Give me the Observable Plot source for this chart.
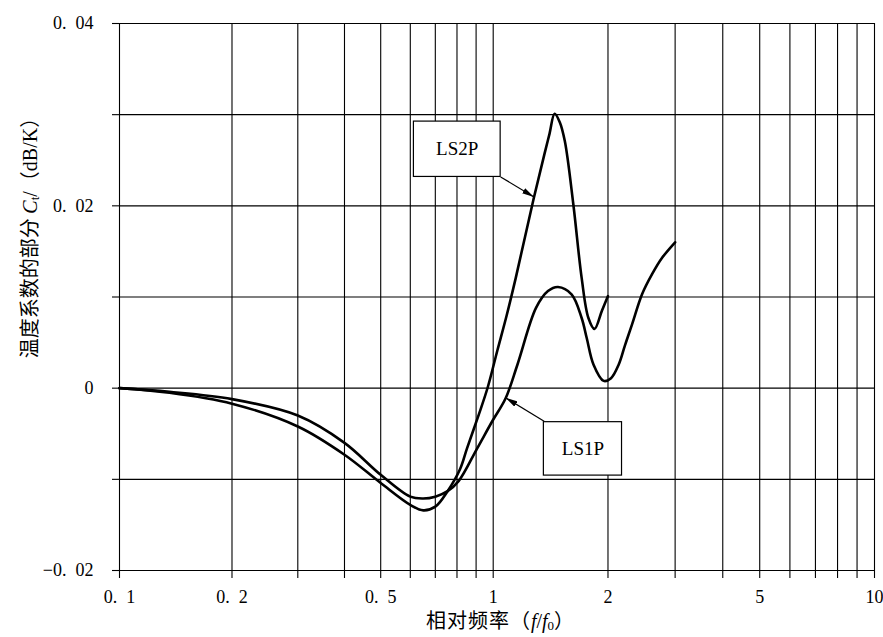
<!DOCTYPE html>
<html><head><meta charset="utf-8">
<script src="https://cdn.jsdelivr.net/npm/d3@7"></script>
<script src="https://cdn.jsdelivr.net/npm/@observablehq/plot@0.6"></script>
<style>body{margin:0;background:#fff}</style>
</head><body><div id="chart"></div>
<script>
// Relative frequency f/f0 and temperature coefficient part Ct (dB/K)
const ls2pF = [0.1, 0.136, 0.2, 0.3, 0.4, 0.5, 0.6, 0.65, 0.7, 0.755, 0.815, 0.851, 0.915, 0.967, 1.025, 1.085, 1.146, 1.277, 1.363, 1.405, 1.449, 1.494, 1.541, 1.622, 1.706, 1.777, 1.844, 1.928, 2.0];
const ls2pC = [0, -0.0005, -0.0017, -0.0042, -0.0073, -0.0104, -0.0128, -0.0134, -0.0130, -0.0113, -0.0089, -0.0066, -0.0029, 0.0001, 0.0041, 0.0080, 0.0121, 0.0208, 0.0257, 0.0279, 0.0301, 0.0292, 0.0271, 0.0202, 0.0121, 0.0077, 0.0065, 0.0085, 0.0101];

const ls1pF = [0.1, 0.136, 0.2, 0.3, 0.4, 0.5, 0.6, 0.65, 0.7, 0.755, 0.808, 0.906, 0.995, 1.078, 1.158, 1.295, 1.392, 1.479, 1.605, 1.706, 1.759, 1.832, 1.948, 2.037, 2.134, 2.216, 2.313, 2.457, 2.61, 2.773, 3.0];
const ls1pC = [0, -0.0004, -0.0012, -0.0030, -0.0060, -0.0095, -0.0119, -0.0121, -0.0119, -0.0113, -0.0102, -0.0066, -0.0036, -0.0011, 0.0026, 0.0088, 0.01065, 0.0111, 0.0103, 0.0077, 0.0055, 0.0026, 0.0008, 0.0011, 0.0026, 0.0047, 0.0070, 0.0103, 0.0125, 0.0143, 0.0160];

const xTicks = [0.1, 0.2, 0.3, 0.4, 0.5, 0.6, 0.7, 0.8, 0.9, 1, 2, 3, 4, 5, 6, 7, 8, 9, 10];
const xTickLabels = ["0. 1", "0. 2", "", "", "0. 5", "", "", "", "", "1", "2", "", "", "5", "", "", "", "", "10"];
const yTicks = [-0.02, -0.01, 0, 0.01, 0.02, 0.03, 0.04];
const yTickLabels = ["−0. 02", "", "0", "", "0. 02", "", "0. 04"];

// Callout boxes and their arrows
const boxNames = ["LS2P", "LS1P"];
const boxF1 = [0.6135, 1.358];
const boxF2 = [1.046, 2.177];
const boxC1 = [0.02317, -0.00959];
const boxC2 = [0.02924, -0.00373];
const arrowF1 = [1.046, 1.36];
const arrowC1 = [0.02317, -0.00362];
const arrowF2 = [1.279, 1.078];
const arrowC2 = [0.02097, -0.00106];

const sp = s => s.replace(". ", ".\u2002");
const ls2p = ls2pF.map((f, i) => ({f, c: ls2pC[i]}));
const ls1p = ls1pF.map((f, i) => ({f, c: ls1pC[i]}));
const boxes = boxNames.map((name, i) => ({
  name, x1: boxF1[i], x2: boxF2[i], y1: boxC1[i], y2: boxC2[i],
  tx: Math.sqrt(boxF1[i] * boxF2[i]), ty: (boxC1[i] + boxC2[i]) / 2
}));
const arrows = boxNames.map((name, i) => ({x1: arrowF1[i], y1: arrowC1[i], x2: arrowF2[i], y2: arrowC2[i]}));

const chart = Plot.plot({
  width: 883, height: 637,
  marginLeft: 119, marginRight: 9, marginTop: 23, marginBottom: 67,
  x: {type: "log", domain: [0.1, 1, 10], range: [119, 492.7, 874]},
  y: {domain: [-0.02, 0.04]},
  style: {fontFamily: "'Liberation Serif', serif", fontSize: "18px", color: "#000", background: "#fff"},
  marks: [
    Plot.ruleX(xTicks, {y1: -0.02, y2: 0.04, stroke: "#000", strokeWidth: 1.1}),
    Plot.ruleY(yTicks, {x1: 0.1, x2: 10, stroke: "#000", strokeWidth: 1.1}),
    Plot.axisX({ticks: xTicks, tickSize: 8, tickPadding: 11.5, strokeWidth: 1.1,
      tickFormat: d => sp(xTickLabels[xTicks.indexOf(d)] ?? ""), label: null}),
    Plot.axisY({ticks: yTicks, tickSize: 7, tickPadding: 19, strokeWidth: 1.1,
      tickFormat: d => sp(yTickLabels[yTicks.indexOf(d)] ?? ""), label: null}),
    Plot.rect(boxes, {x1: "x1", x2: "x2", y1: "y1", y2: "y2", fill: "#fff", stroke: "#000", strokeWidth: 1.2}),
    Plot.text(boxes, {x: "tx", y: "ty", text: "name", fontSize: 19}),
    Plot.link(arrows, {x1: "x1", y1: "y1", x2: "x2", y2: "y2", stroke: "#000", strokeWidth: 1.2, className: "callout"}),
    Plot.line(ls1p, {x: "f", y: "c", curve: "catmull-rom", stroke: "#000", strokeWidth: 2.6}),
    Plot.line(ls2p, {x: "f", y: "c", curve: "catmull-rom", stroke: "#000", strokeWidth: 2.6})
  ]
});
document.getElementById("chart").appendChild(chart);

const svg = d3.select(chart);
// filled arrowheads for the callout lines
svg.append("defs").append("marker")
  .attr("id", "ahead").attr("viewBox", "0 0 12 6").attr("refX", 12).attr("refY", 3)
  .attr("markerWidth", 12).attr("markerHeight", 6).attr("markerUnits", "userSpaceOnUse")
  .attr("orient", "auto")
  .append("path").attr("d", "M0,0L12,3L0,6Z").attr("fill", "#000");
svg.selectAll(".callout path, .callout line").attr("marker-end", "url(#ahead)");

const cjk = "'Noto Sans CJK SC', sans-serif";
const yl = svg.append("text")
  .attr("transform", "translate(32,233) rotate(-90)")
  .attr("text-anchor", "middle").attr("dominant-baseline", "middle")
  .attr("font-size", 20).attr("fill", "#000");
yl.append("tspan").attr("font-family", cjk).text("温度系数的部分 ");
yl.append("tspan").attr("font-style", "italic").text("C");
yl.append("tspan").attr("font-size", 13).attr("dy", 4).text("t");
yl.append("tspan").attr("dy", -4).text("/");
yl.append("tspan").attr("font-family", cjk).text("（");
yl.append("tspan").text("dB/K");
yl.append("tspan").attr("font-family", cjk).text("）");

const xl = svg.append("text")
  .attr("x", 500).attr("y", 623)
  .attr("text-anchor", "middle").attr("dominant-baseline", "middle")
  .attr("font-size", 20).attr("fill", "#000");
xl.append("tspan").attr("font-family", cjk).attr("letter-spacing", 1).text("相对频率（");
xl.append("tspan").attr("font-style", "italic").text("f");
xl.append("tspan").text("/");
xl.append("tspan").attr("font-style", "italic").text("f");
xl.append("tspan").attr("font-size", 13).attr("dy", 4).text("0");
xl.append("tspan").attr("dy", -4).attr("font-family", cjk).text("）");
</script>
</body></html>
